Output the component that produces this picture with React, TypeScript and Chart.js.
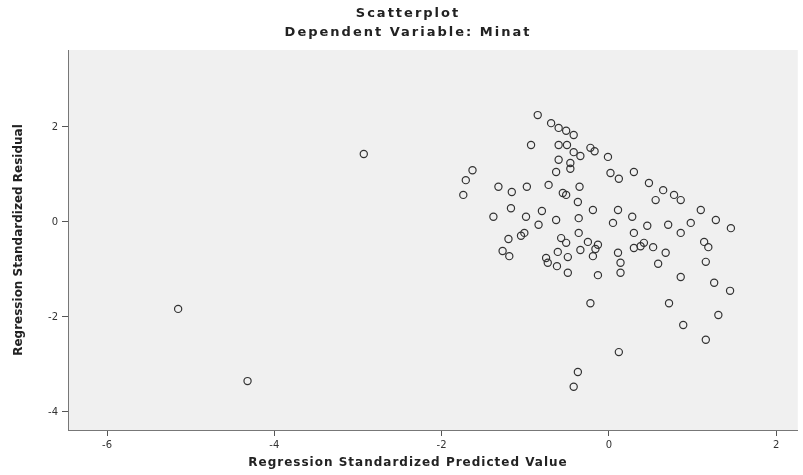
import React, { useEffect, useRef } from "react";
import { Chart, registerables } from "chart.js";

Chart.register(...registerables);

const chartTitle = "Scatterplot";
const chartSubtitle = "Dependent Variable: Minat";
const xAxisTitle = "Regression Standardized Predicted Value";
const yAxisTitle = "Regression Standardized Residual";

const xTickValues = [-6, -4, -2, 0, 2];
const yTickValues = [2, 0, -2, -4];

// Regression standardized predicted values
const predicted = [
  -5.15, -4.32, -2.93, -0.85, -0.69, -0.6, -0.51, -0.42, -0.93, -0.6,
  -0.5, -0.42, -0.34, -0.22, -0.17, -0.01, -0.6, -0.46, -0.46, -0.63,
  -1.63, -1.71, -1.74, -1.32, -1.16, -0.98, -0.72, -0.55, -0.35, 0.02,
  0.12, 0.3, 0.48, 0.65, 0.78, 0.86, 0.56, 1.1, 1.28, 1.46,
  -1.38, -1.17, -0.99, -0.8, -0.63, -0.84, -1.01, -1.2, -1.27, -1.19,
  -0.36, -0.19, 0.11, 0.28, 0.05, 0.46, 0.71, 0.98, 0.3, 0.86,
  -0.36, -0.51, -0.57, -0.61, -0.49, -0.25, -0.13, -0.34, -0.19, 0.11,
  0.3, 0.42, 0.53, 0.68, 1.14, 1.19, 1.16, 0.59, 0.14, -0.73,
  -0.62, -0.49, -0.13, 0.14, 0.86, 1.26, 1.45, -0.22, 0.72, 1.31,
  0.89, 1.16, 0.12, -0.37, -0.42, -0.51, -0.37, -1.05, 0.38, -0.16,
  -0.75,
];

// Regression standardized residuals
const residuals = [
  -1.83, -3.35, 1.43, 2.25, 2.08, 1.98, 1.92, 1.83, 1.62, 1.62,
  1.62, 1.47, 1.39, 1.56, 1.49, 1.37, 1.31, 1.24, 1.12, 1.05,
  1.09, 0.88, 0.57, 0.74, 0.63, 0.74, 0.78, 0.61, 0.74, 1.03,
  0.91, 1.05, 0.82, 0.67, 0.57, 0.46, 0.46, 0.25, 0.04, -0.13,
  0.11, 0.29, 0.11, 0.23, 0.04, -0.06, -0.23, -0.36, -0.61, -0.72,
  0.08, 0.25, 0.25, 0.11, -0.02, -0.08, -0.06, -0.02, -0.23, -0.23,
  -0.23, -0.44, -0.34, -0.63, -0.74, -0.42, -0.48, -0.59, -0.72, -0.65,
  -0.55, -0.44, -0.53, -0.65, -0.42, -0.53, -0.84, -0.88, -0.86, -0.86,
  -0.93, -1.07, -1.12, -1.07, -1.16, -1.28, -1.45, -1.71, -1.71, -1.96,
  -2.17, -2.48, -2.74, -3.16, -3.47, 0.57, 0.42, -0.29, -0.51, -0.57,
  -0.76,
];

const fontFamily = "'DejaVu Sans', 'Liberation Sans', Arial, sans-serif";

const plotBackground = {
  id: "plotBackground",
  beforeDraw(chart: any) {
    const { ctx, chartArea } = chart;
    if (!chartArea) return;
    ctx.save();
    ctx.fillStyle = "#f0f0f0";
    ctx.fillRect(chartArea.left, chartArea.top, chartArea.right - chartArea.left, chartArea.bottom - chartArea.top);
    ctx.restore();
  },
};

// Headings drawn as canvas text with the wide letter spacing of the reference
const headings = {
  id: "headings",
  afterDraw(chart: any) {
    const { ctx } = chart;
    const cx = 408;
    ctx.save();
    ctx.fillStyle = "#222";
    ctx.textAlign = "center";
    ctx.textBaseline = "middle";
    ctx.font = `bold 13px ${fontFamily}`;
    (ctx as any).letterSpacing = "2px";
    ctx.fillText(chartTitle, cx, 14);
    ctx.fillText(chartSubtitle, cx, 33);
    ctx.font = `bold 12px ${fontFamily}`;
    (ctx as any).letterSpacing = "1px";
    ctx.fillText(xAxisTitle, cx, 463);
    ctx.restore();
  },
};

export default function App() {
  const canvasRef = useRef<HTMLCanvasElement | null>(null);

  useEffect(() => {
    if (!canvasRef.current) return;
    const points = predicted.map((x, i) => ({ x, y: residuals[i] }));
    const chart = new Chart(canvasRef.current, {
      type: "scatter",
      data: {
        datasets: [
          {
            data: points,
            pointStyle: "circle",
            pointRadius: 3.6,
            pointBorderWidth: 1.2,
            borderColor: "#333333",
            backgroundColor: "rgba(0,0,0,0)",
          },
        ],
      },
      options: {
        animation: false,
        responsive: false,
        maintainAspectRatio: false,
        layout: { padding: { left: 12, right: 3, top: 50, bottom: 4 } },
        plugins: {
          legend: { display: false },
          tooltip: { enabled: false },
          title: { display: false },
        },
        scales: {
          x: {
            type: "linear",
            min: -6.467,
            max: 2.26,
            afterBuildTicks: (scale: any) => {
              scale.ticks = xTickValues.map((v) => ({ value: v }));
            },
            afterFit: (scale: any) => {
              scale.height = 41;
            },
            ticks: {
              color: "#333",
              font: { family: fontFamily, size: 10 },
              padding: 3,
            },
            grid: { drawOnChartArea: false, drawTicks: true, tickLength: 6, color: "#555" },
            border: { display: true, color: "#777" },
            title: { display: false, text: xAxisTitle },
          },
          y: {
            type: "linear",
            min: -4.38,
            max: 3.62,
            afterBuildTicks: (scale: any) => {
              scale.ticks = yTickValues.map((v) => ({ value: v }));
            },
            afterFit: (scale: any) => {
              scale.width = 56;
            },
            ticks: {
              color: "#333",
              font: { family: fontFamily, size: 10 },
              padding: 4,
            },
            grid: { drawOnChartArea: false, drawTicks: true, tickLength: 6, color: "#555" },
            border: { display: true, color: "#777" },
            title: {
              display: true,
              text: yAxisTitle,
              color: "#222",
              font: { family: fontFamily, size: 12, weight: "bold" },
              padding: { top: 0, bottom: 6 },
            },
          },
        },
      },
      plugins: [plotBackground, headings],
    } as any);
    return () => chart.destroy();
  }, []);

  return (
    <div style={{ position: "fixed", left: 0, top: 0, width: 803, height: 475, background: "#fff" }}>
      <canvas ref={canvasRef} width={803} height={475} style={{ display: "block", width: 803, height: 475 }} />
    </div>
  );
}
